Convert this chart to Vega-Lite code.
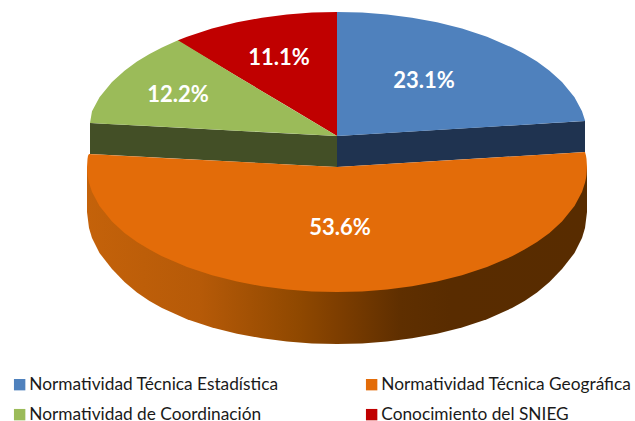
{
"$schema":"https://vega.github.io/schema/vega-lite/v6.json",
"width":635,"height":421,"padding":0,"autosize":{"type":"none"},
"background":"white",
"config":{"view":{"stroke":null}},
"datasets":{
"wall":[
{"x":-250,"y":-31,"y2":-76},{"x":-249,"y":-31,"y2":-84},{"x":-248,"y":-31,"y2":-92},{"x":-245,"y":-31,"y2":-102},{"x":-237.5,"y":-31,"y2":-117},{"x":-225,"y":-31,"y2":-133},{"x":-212.5,"y":-31,"y2":-146},{"x":-200,"y":-31,"y2":-156.4},{"x":-187.5,"y":-31,"y2":-165},{"x":-175,"y":-31,"y2":-172},{"x":-150,"y":-31,"y2":-183.2},{"x":-125,"y":-31,"y2":-191.4},{"x":-100,"y":-31,"y2":-197.7},{"x":-75,"y":-31,"y2":-202.3},{"x":-50,"y":-31,"y2":-205.5},{"x":-25,"y":-31,"y2":-207.4},{"x":0,"y":-31,"y2":-208},{"x":25,"y":-31,"y2":-207.4},{"x":50,"y":-31,"y2":-205.5},{"x":75,"y":-31,"y2":-202.3},{"x":100,"y":-31,"y2":-197.7},{"x":125,"y":-31,"y2":-191.4},{"x":150,"y":-31,"y2":-183.2},{"x":175,"y":-31,"y2":-172},{"x":187.5,"y":-31,"y2":-165},{"x":200,"y":-31,"y2":-156.4},{"x":212.5,"y":-31,"y2":-146},{"x":225,"y":-31,"y2":-133},{"x":237.5,"y":-31,"y2":-117},{"x":245,"y":-31,"y2":-102},{"x":248,"y":-31,"y2":-92},{"x":249,"y":-31,"y2":-84},{"x":250,"y":-31,"y2":-76}
],
"backBlue":[{"x":0,"y":0,"y2":-31},{"x":248,"y":15,"y2":-16}],
"backGreen":[{"x":-247,"y":13,"y2":-18},{"x":0,"y":0,"y2":-31}],
"tops":[
{"sector":"Normatividad Técnica Estadística","x":0,"y":124,"y2":0},{"sector":"Normatividad Técnica Estadística","x":25,"y":123.4,"y2":1.5},{"sector":"Normatividad Técnica Estadística","x":50,"y":121.5,"y2":3},{"sector":"Normatividad Técnica Estadística","x":75,"y":118.3,"y2":4.5},{"sector":"Normatividad Técnica Estadística","x":100,"y":113.7,"y2":6},{"sector":"Normatividad Técnica Estadística","x":125,"y":107.4,"y2":7.6},{"sector":"Normatividad Técnica Estadística","x":150,"y":99.2,"y2":9.1},{"sector":"Normatividad Técnica Estadística","x":175,"y":88.5,"y2":10.6},{"sector":"Normatividad Técnica Estadística","x":187.5,"y":82,"y2":11.3},{"sector":"Normatividad Técnica Estadística","x":200,"y":74.4,"y2":12.1},{"sector":"Normatividad Técnica Estadística","x":212.5,"y":65.3,"y2":12.9},{"sector":"Normatividad Técnica Estadística","x":225,"y":54.1,"y2":13.6},{"sector":"Normatividad Técnica Estadística","x":237.5,"y":38.7,"y2":14.4},{"sector":"Normatividad Técnica Estadística","x":245,"y":24.7,"y2":14.8},{"sector":"Normatividad Técnica Estadística","x":248,"y":15.5,"y2":15},
{"sector":"Conocimiento del SNIEG","x":-159,"y":95.7,"y2":95},{"sector":"Conocimiento del SNIEG","x":-150,"y":99.2,"y2":89.6},{"sector":"Conocimiento del SNIEG","x":-125,"y":107.4,"y2":74.7},{"sector":"Conocimiento del SNIEG","x":-100,"y":113.7,"y2":59.75},{"sector":"Conocimiento del SNIEG","x":-75,"y":118.3,"y2":44.8},{"sector":"Conocimiento del SNIEG","x":-50,"y":121.5,"y2":29.9},{"sector":"Conocimiento del SNIEG","x":-25,"y":123.4,"y2":14.9},{"sector":"Conocimiento del SNIEG","x":0,"y":124,"y2":0},
{"sector":"Normatividad de Coordinación","x":-247,"y":13,"y2":13},{"sector":"Normatividad de Coordinación","x":-245,"y":24.7,"y2":12.9},{"sector":"Normatividad de Coordinación","x":-237.5,"y":38.7,"y2":12.5},{"sector":"Normatividad de Coordinación","x":-225,"y":54.1,"y2":11.8},{"sector":"Normatividad de Coordinación","x":-212.5,"y":65.3,"y2":11.2},{"sector":"Normatividad de Coordinación","x":-200,"y":74.4,"y2":10.5},{"sector":"Normatividad de Coordinación","x":-187.5,"y":82,"y2":9.9},{"sector":"Normatividad de Coordinación","x":-175,"y":88.5,"y2":9.2},{"sector":"Normatividad de Coordinación","x":-159,"y":95.7,"y2":8.4},{"sector":"Normatividad de Coordinación","x":-100,"y":59.75,"y2":5.3},{"sector":"Normatividad de Coordinación","x":0,"y":0,"y2":0},
{"sector":"Normatividad Técnica Geográfica","x":-250,"y":-31,"y2":-31},{"sector":"Normatividad Técnica Geográfica","x":-249.5,"y":-23.1,"y2":-38.9},{"sector":"Normatividad Técnica Geográfica","x":-249,"y":-19.8,"y2":-42.2},{"sector":"Normatividad Técnica Geográfica","x":-248,"y":-18,"y2":-46.8},{"sector":"Normatividad Técnica Geográfica","x":-245,"y":-18.2,"y2":-55.9},{"sector":"Normatividad Técnica Geográfica","x":-237.5,"y":-18.6,"y2":-70},{"sector":"Normatividad Técnica Geográfica","x":-225,"y":-19.3,"y2":-85.5},{"sector":"Normatividad Técnica Geográfica","x":-212.5,"y":-19.9,"y2":-96.9},{"sector":"Normatividad Técnica Geográfica","x":-200,"y":-20.6,"y2":-106},{"sector":"Normatividad Técnica Geográfica","x":-187.5,"y":-21.2,"y2":-113.6},{"sector":"Normatividad Técnica Geográfica","x":-175,"y":-21.9,"y2":-120.3},{"sector":"Normatividad Técnica Geográfica","x":-150,"y":-23.2,"y2":-131},{"sector":"Normatividad Técnica Geográfica","x":-125,"y":-24.5,"y2":-139.3},{"sector":"Normatividad Técnica Geográfica","x":-100,"y":-25.8,"y2":-145.6},{"sector":"Normatividad Técnica Geográfica","x":-75,"y":-27.1,"y2":-150.3},{"sector":"Normatividad Técnica Geográfica","x":-50,"y":-28.4,"y2":-153.5},{"sector":"Normatividad Técnica Geográfica","x":-25,"y":-29.7,"y2":-155.4},{"sector":"Normatividad Técnica Geográfica","x":0,"y":-31,"y2":-156},{"sector":"Normatividad Técnica Geográfica","x":25,"y":-29.5,"y2":-155.4},{"sector":"Normatividad Técnica Geográfica","x":50,"y":-28,"y2":-153.5},{"sector":"Normatividad Técnica Geográfica","x":75,"y":-26.5,"y2":-150.3},{"sector":"Normatividad Técnica Geográfica","x":100,"y":-25,"y2":-145.6},{"sector":"Normatividad Técnica Geográfica","x":125,"y":-23.5,"y2":-139.3},{"sector":"Normatividad Técnica Geográfica","x":150,"y":-22,"y2":-131},{"sector":"Normatividad Técnica Geográfica","x":175,"y":-20.5,"y2":-120.3},{"sector":"Normatividad Técnica Geográfica","x":187.5,"y":-19.7,"y2":-113.6},{"sector":"Normatividad Técnica Geográfica","x":200,"y":-19,"y2":-106},{"sector":"Normatividad Técnica Geográfica","x":212.5,"y":-18.2,"y2":-96.9},{"sector":"Normatividad Técnica Geográfica","x":225,"y":-17.5,"y2":-85.5},{"sector":"Normatividad Técnica Geográfica","x":237.5,"y":-16.7,"y2":-70},{"sector":"Normatividad Técnica Geográfica","x":245,"y":-16.2,"y2":-55.9},{"sector":"Normatividad Técnica Geográfica","x":248,"y":-16,"y2":-46.8},{"sector":"Normatividad Técnica Geográfica","x":249,"y":-19.8,"y2":-42.2},{"sector":"Normatividad Técnica Geográfica","x":249.5,"y":-23.1,"y2":-38.9},{"sector":"Normatividad Técnica Geográfica","x":250,"y":-31,"y2":-31}
],
"labels":[
{"sector":"Normatividad Técnica Estadística","share":0.231,"x":87,"y":55},
{"sector":"Conocimiento del SNIEG","share":0.111,"x":-58,"y":78},
{"sector":"Normatividad de Coordinación","share":0.122,"x":-159,"y":41},
{"sector":"Normatividad Técnica Geográfica","share":0.536,"x":3,"y":-92}
]
},
"encoding":{
"x":{"field":"x","type":"quantitative","axis":null,"scale":{"domain":[-337,298],"nice":false,"zero":false}},
"y":{"field":"y","type":"quantitative","axis":null,"scale":{"domain":[-285,136],"nice":false,"zero":false}}
},
"layer":[
{"data":{"name":"wall"},
"mark":{"type":"area","line":false,"color":{"gradient":"linear","x1":0,"x2":1,"y1":0,"y2":0,"stops":[{"offset":0,"color":"#C4620A"},{"offset":0.226,"color":"#B65A08"},{"offset":0.426,"color":"#8F4800"},{"offset":0.5,"color":"#7E3E00"},{"offset":0.626,"color":"#5F2F00"},{"offset":0.726,"color":"#592C00"},{"offset":1,"color":"#582C00"}]}},
"encoding":{"y":{"field":"y","type":"quantitative","stack":null},"y2":{"field":"y2"}}},
{"data":{"name":"backBlue"},"mark":{"type":"area","color":"#1F3350"},
"encoding":{"y":{"field":"y","type":"quantitative","stack":null},"y2":{"field":"y2"}}},
{"data":{"name":"backGreen"},"mark":{"type":"area","color":"#434F26"},
"encoding":{"y":{"field":"y","type":"quantitative","stack":null},"y2":{"field":"y2"}}},
{"data":{"name":"tops"},"mark":{"type":"area"},
"encoding":{"y":{"field":"y","type":"quantitative","stack":null},"y2":{"field":"y2"},
"color":{"field":"sector","type":"nominal","sort":null,
"scale":{"domain":["Normatividad Técnica Estadística","Normatividad Técnica Geográfica","Normatividad de Coordinación","Conocimiento del SNIEG"],"range":["#4F81BD","#E36C09","#9BBB59","#C00000"]},
"legend":{"title":null,"orient":"none","direction":"horizontal","legendX":11,"legendY":376,"columns":2,"symbolType":"square","symbolSize":130,"symbolStrokeWidth":0,"labelFont":"Lato","labelFontSize":17.3,"labelColor":"#1a1a1a","labelOffset":1,"columnPadding":84,"rowPadding":12,"labelLimit":320}}}},
{"data":{"name":"labels"},"mark":{"type":"text","font":"Lato","fontWeight":"bold","fontSize":22,"color":"white","align":"center","baseline":"middle"},
"encoding":{"text":{"field":"share","type":"quantitative","format":".1%"}}}
]
}
